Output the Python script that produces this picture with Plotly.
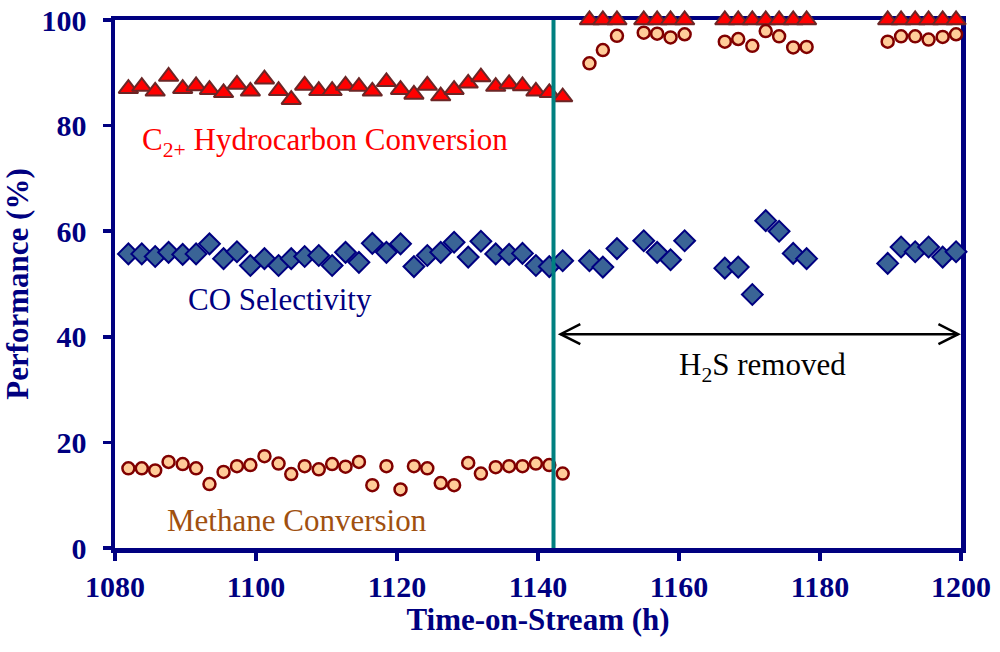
import plotly.graph_objects as go

# ---- data ----
time_h = [1081.9, 1083.8, 1085.7, 1087.6, 1089.6, 1091.5, 1093.4, 1095.4, 1097.3, 1099.2,
          1101.2, 1103.2, 1105.0, 1106.9, 1108.9, 1110.8, 1112.7, 1114.6, 1116.5, 1118.5,
          1120.5, 1122.4, 1124.3, 1126.2, 1128.1, 1130.1, 1131.9, 1134.0, 1135.9, 1137.8,
          1139.7, 1141.6, 1143.5,
          1147.3, 1149.2, 1151.2, 1155.0, 1156.9, 1158.8, 1160.8, 1166.5, 1168.4, 1170.4,
          1172.3, 1174.2, 1176.2, 1178.1, 1189.6, 1191.5, 1193.5, 1195.4, 1197.4, 1199.3]

c2_conversion = [87.0, 87.4, 86.5, 89.3, 87.0, 87.5, 86.8, 86.2, 87.8, 86.5,
                 88.8, 86.6, 84.9, 87.6, 86.6, 86.6, 87.6, 87.4, 86.5, 88.3,
                 86.8, 85.9, 87.6, 85.6, 86.8, 88.0, 89.2, 87.4, 87.9, 87.5,
                 86.5, 86.2, 85.4,
                 100, 100, 100, 100, 100, 100, 100, 100, 100, 100,
                 100, 100, 100, 100, 100, 100, 100, 100, 100, 100]

co_selectivity = [55.7, 55.7, 55.2, 56.0, 55.6, 55.7, 57.6, 54.8, 56.1, 53.5,
                  54.8, 53.5, 54.8, 55.2, 55.4, 53.5, 56.0, 54.1, 57.7, 56.0,
                  57.6, 53.3, 55.4, 56.0, 57.9, 55.1, 58.1, 55.7, 55.6, 55.8,
                  53.5, 53.3, 54.4,
                  54.4, 53.2, 56.7, 58.2, 56.0, 54.6, 58.2, 53.0, 53.2, 48.0,
                  62.0, 60.0, 55.8, 54.8, 53.9, 57.0, 56.1, 57.0, 55.1, 56.1]

methane_conversion = [15.1, 15.1, 14.7, 16.3, 15.9, 15.1, 12.1, 14.4, 15.5, 15.7,
                      17.4, 16.0, 14.0, 15.5, 14.9, 15.9, 15.4, 16.3, 11.9, 15.5,
                      11.1, 15.5, 15.1, 12.3, 11.9, 16.1, 14.1, 15.3, 15.5, 15.5,
                      16.0, 15.7, 14.1,
                      91.8, 94.3, 97.0, 97.6, 97.4, 96.7, 97.3, 95.9, 96.4, 95.1,
                      97.9, 96.9, 94.8, 94.9, 95.9, 96.9, 96.9, 96.3, 96.8, 97.3]

x_ticks = [1080, 1100, 1120, 1140, 1160, 1180, 1200]
y_ticks = [0, 20, 40, 60, 80, 100]

h2s_removal_time = 1142.2
arrow_start, arrow_end, arrow_level = 1143.2, 1199.6, 40.5

NAVY = "#000080"
FONT = "Liberation Serif, Times New Roman, serif"

fig = go.Figure()

fig.add_trace(go.Scatter(
    x=time_h, y=c2_conversion, mode="markers", cliponaxis=False,
    name="C2+ Hydrocarbon Conversion",
    marker=dict(symbol="triangle-up", size=17, color="#FF0000",
                line=dict(color="#6B2626", width=2))))
fig.add_trace(go.Scatter(
    x=time_h, y=methane_conversion, mode="markers", cliponaxis=False,
    name="Methane Conversion",
    marker=dict(symbol="circle", size=12, color="#FFCC99",
                line=dict(color="#800000", width=2.5))))
fig.add_trace(go.Scatter(
    x=time_h, y=co_selectivity, mode="markers", cliponaxis=False,
    name="CO Selectivity",
    marker=dict(symbol="diamond", size=16, color="#3A6496",
                line=dict(color=NAVY, width=2))))

# vertical teal line marking H2S removal
fig.add_shape(type="line", xref="x", yref="y", x0=h2s_removal_time, x1=h2s_removal_time,
              y0=0, y1=100, line=dict(color="#008080", width=4), layer="above")

# double-headed arrow with open heads
fig.add_shape(type="line", xref="x", yref="y", x0=arrow_start, x1=arrow_end,
              y0=arrow_level, y1=arrow_level, line=dict(color="black", width=2.5))
hx, hy = 2.8, 1.9
fig.add_shape(type="path", xref="x", yref="y",
              path=f"M {arrow_start+hx},{arrow_level+hy} L {arrow_start},{arrow_level} L {arrow_start+hx},{arrow_level-hy}",
              line=dict(color="black", width=2.5))
fig.add_shape(type="path", xref="x", yref="y",
              path=f"M {arrow_end-hx},{arrow_level+hy} L {arrow_end},{arrow_level} L {arrow_end-hx},{arrow_level-hy}",
              line=dict(color="black", width=2.5))

labels = [
    (1109.8, 76.9, "C<sub>2+</sub> Hydrocarbon Conversion", "#FF0000"),
    (1103.4, 47.0, "CO Selectivity", NAVY),
    (1105.8, 5.2, "Methane Conversion", "#A0500F"),
    (1171.9, 34.2, "H<sub>2</sub>S removed", "black"),
]
for lx, ly, txt, col in labels:
    fig.add_annotation(x=lx, y=ly, xref="x", yref="y", text=txt, showarrow=False,
                       font=dict(family=FONT, size=31, color=col))

axis_common = dict(showline=True, linecolor=NAVY, linewidth=4.5, mirror=True,
                   ticks="outside", tickcolor=NAVY, tickwidth=3.5, ticklen=8,
                   showgrid=False, zeroline=False, layer="below traces",
                   automargin=False, ticklabeloverflow="allow",
                   tickfont=dict(family=FONT, size=30, color=NAVY, weight="bold"))

fig.update_xaxes(range=[1080, 1200], tickvals=x_ticks,
                 title=dict(text="<b>Time-on-Stream (h)</b>", standoff=6,
                            font=dict(family=FONT, size=31, color=NAVY)),
                 **axis_common)
fig.update_yaxes(range=[0, 100], tickvals=y_ticks, ticklabelstandoff=10,
                 title=dict(text="<b>Performance (%)</b>", standoff=8,
                            font=dict(family=FONT, size=31, color=NAVY)),
                 **axis_common)

fig.update_layout(width=1000, height=652, showlegend=False,
                  margin=dict(l=115, r=39, t=20, b=104),
                  plot_bgcolor="white", paper_bgcolor="white",
                  font=dict(family=FONT))

# remove the page's default body margin so the figure fills the window exactly
fig.write_html("out.html",
               config={"displayModeBar": False, "staticPlot": True},
               post_script="document.body.style.margin='0';document.body.style.overflow='hidden';")
